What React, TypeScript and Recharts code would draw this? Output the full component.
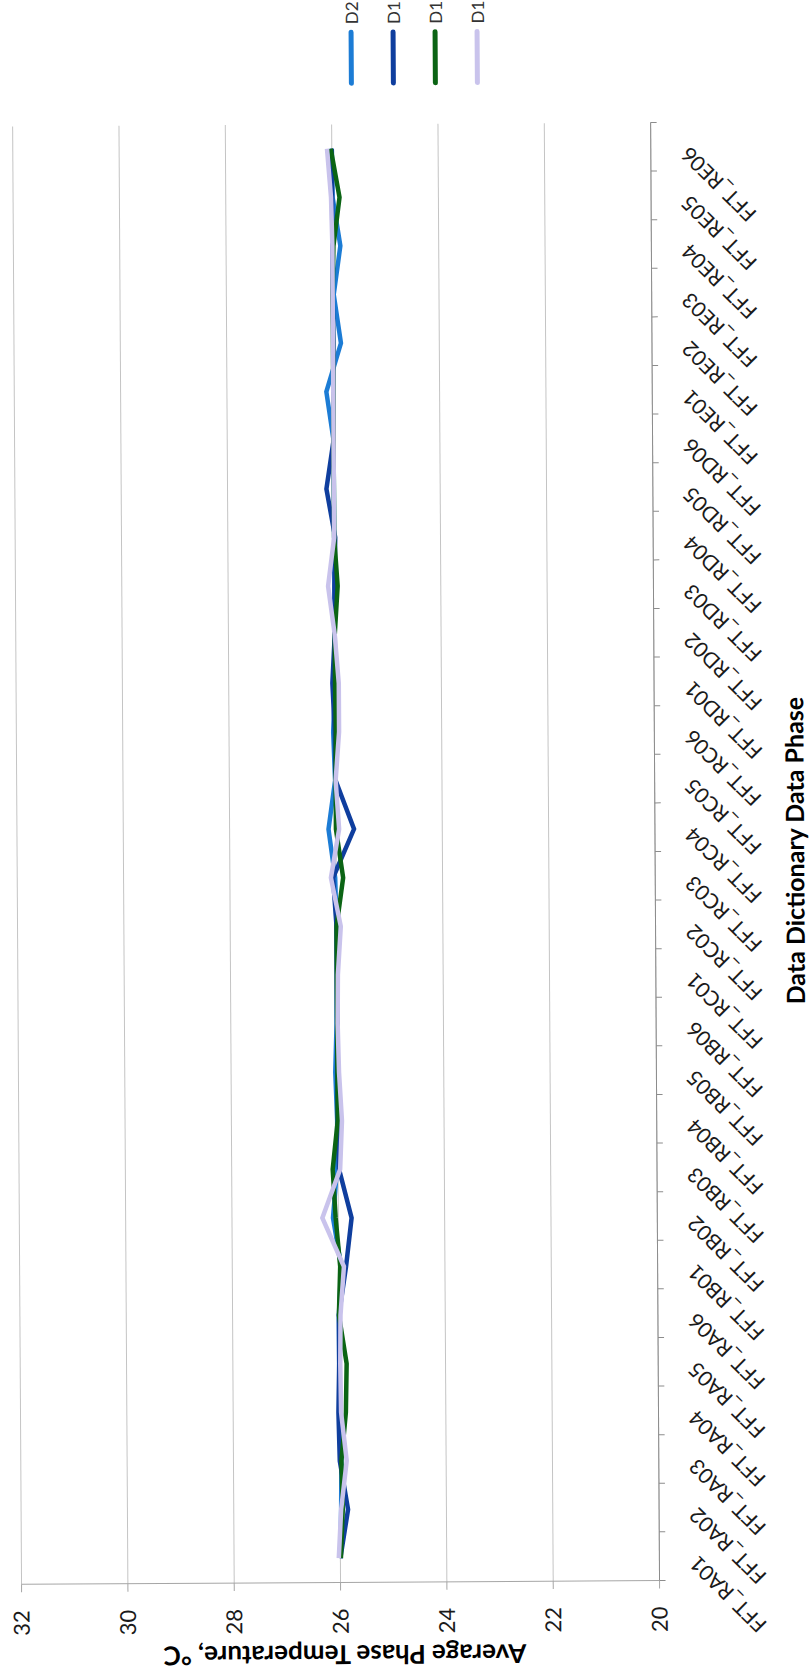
import React from 'react';
import { LineChart, Line, XAxis, YAxis, CartesianGrid, Legend } from 'recharts';

const phases = [
  'FFT_RA01', 'FFT_RA02', 'FFT_RA03', 'FFT_RA04', 'FFT_RA05', 'FFT_RA06',
  'FFT_RB01', 'FFT_RB02', 'FFT_RB03', 'FFT_RB04', 'FFT_RB05', 'FFT_RB06',
  'FFT_RC01', 'FFT_RC02', 'FFT_RC03', 'FFT_RC04', 'FFT_RC05', 'FFT_RC06',
  'FFT_RD01', 'FFT_RD02', 'FFT_RD03', 'FFT_RD04', 'FFT_RD05', 'FFT_RD06',
  'FFT_RE01', 'FFT_RE02', 'FFT_RE03', 'FFT_RE04', 'FFT_RE05', 'FFT_RE06',
];

const d2 = [
  26.0, 25.98, 25.97, 26.0, 26.0, 26.0,
  25.95, 26.1, 26.02, 26.01, 26.04, 26.01,
  26.0, 26.0, 26.02, 26.14, 26.01, 26.04,
  26.0, 26.0, 26.0, 26.0, 26.0, 26.0,
  26.13, 25.85, 25.98, 25.85, 25.99, 26.0,
];

const d1Navy = [
  26.0, 25.85, 26.0, 26.02, 26.0, 26.0,
  25.86, 25.75, 25.98, 26.0, 26.0, 26.0,
  26.0, 26.0, 26.06, 25.66, 26.0, 26.01,
  26.05, 26.0, 26.0, 25.98, 26.14, 26.0,
  26.0, 25.99, 26.0, 26.0, 26.0, 26.0,
];

const d1Green = [
  25.99, 25.95, 25.97, 25.88, 25.86, 26.0,
  25.97, 26.05, 26.1, 26.0, 26.0, 26.0,
  26.0, 26.0, 25.87, 26.0, 26.0, 25.99,
  26.0, 26.0, 25.94, 26.0, 26.0, 26.0,
  26.0, 26.0, 26.0, 25.98, 25.86, 26.02,
];

const d1Lilac = [
  26.03, 25.98, 25.87, 25.97, 25.98, 25.97,
  25.9, 26.3, 25.96, 25.92, 25.97, 25.99,
  25.98, 25.92, 26.1, 25.94, 26.0, 25.93,
  25.93, 26.0, 26.12, 26.0, 26.0, 26.0,
  26.0, 26.0, 26.0, 26.0, 26.02, 26.09,
];

const tempTicks = [20, 22, 24, 26, 28, 30, 32];

const series = [
  { key: 'd2', name: 'D2', color: '#1C7CD5' },
  { key: 'd1Navy', name: 'D1', color: '#0F3E9E' },
  { key: 'd1Green', name: 'D1', color: '#0B6414' },
  { key: 'd1Lilac', name: 'D1', color: '#C9C3EC' },
];

// each phase sits in the middle of its slot; tick marks go on the slot edges
const data = phases.map((phase, i) => ({
  phase,
  pos: i + 0.5,
  d2: d2[i],
  d1Navy: d1Navy[i],
  d1Green: d1Green[i],
  d1Lilac: d1Lilac[i],
}));

const slotTicks = Array.from({ length: phases.length * 2 + 1 }, (_, i) => i / 2);

const FONT = 'Lato, "Open Sans", sans-serif';
const TEXT = '#1a1a1a';

const PhaseTick = (props: any) => {
  const { x, y, payload } = props;
  const v = payload.value as number;
  if (Number.isInteger(v)) {
    return <line x1={x} y1={y} x2={x} y2={y + 6} stroke="#8C8C8C" strokeWidth={1} />;
  }
  const lx = x - 4;
  const ly = y + 34;
  return (
    <text
      x={lx}
      y={ly}
      dy="0.35em"
      textAnchor="end"
      transform={`rotate(-45, ${lx}, ${ly})`}
      fontFamily={FONT}
      fontSize={21}
      fill={TEXT}
    >
      {phases[Math.floor(v)]}
    </text>
  );
};

const TempTitle = (props: any) => {
  const { viewBox } = props;
  const cy = viewBox.y + viewBox.height / 2 + 4;
  return (
    <text
      x={24}
      y={cy}
      transform={`rotate(-90, 24, ${cy})`}
      textAnchor="middle"
      dominantBaseline="central"
      fontFamily={FONT}
      fontWeight="bold"
      fontSize={26}
      fill="#000"
    >
      Average Phase Temperature, °C
    </text>
  );
};

const PhaseTitle = (props: any) => {
  const { viewBox } = props;
  const cx = viewBox.x + viewBox.width / 2;
  return (
    <text
      x={cx}
      y={794}
      textAnchor="middle"
      dominantBaseline="central"
      fontFamily={FONT}
      fontWeight="bold"
      fontSize={25}
      fill="#000"
    >
      Data Dictionary Data Phase
    </text>
  );
};

// legend rows follow the series order (D2 first)
const LegendBox = () => (
  <div style={{ display: 'flex', flexDirection: 'column' }}>
    {series.map((s) => (
      <div key={s.key} style={{ display: 'flex', alignItems: 'center', height: 42 }}>
        <svg width={59} height={8}>
          <line x1={4} y1={4} x2={55} y2={4} stroke={s.color} strokeWidth={5} strokeLinecap="round" />
        </svg>
        <span style={{ fontFamily: FONT, fontSize: 17, color: '#333', marginLeft: 4, lineHeight: '17px' }}>
          {s.name}
        </span>
      </div>
    ))}
  </div>
);

export default function App() {
  return (
    <div style={{ position: 'absolute', left: 0, top: 0, width: 811, height: 1679, overflow: 'hidden', background: '#fff' }}>
      {/* landscape chart turned on its side */}
      <div
        style={{
          position: 'absolute',
          left: -434,
          top: 434,
          width: 1679,
          height: 811,
          transform: 'rotate(-90.35deg)',
          transformOrigin: '50% 50%',
          fontFamily: FONT,
        }}
      >
        <LineChart width={1679} height={811} data={data} margin={{ top: 17, right: 124, bottom: 6, left: 0 }}>
          <CartesianGrid vertical={false} stroke="#C4C4C4" strokeWidth={1} />
          <XAxis
            dataKey="pos"
            type="number"
            domain={[0, phases.length]}
            ticks={slotTicks}
            interval={0}
            height={150}
            tickSize={0}
            tickMargin={0}
            tickLine={false}
            axisLine={{ stroke: '#8C8C8C', strokeWidth: 1 }}
            tick={<PhaseTick />}
            label={<PhaseTitle />}
          />
          <YAxis
            type="number"
            domain={[20, 32]}
            ticks={tempTicks}
            interval={0}
            width={97}
            tickSize={8}
            tickMargin={18}
            axisLine={{ stroke: '#A6A6A6', strokeWidth: 1 }}
            tickLine={{ stroke: '#A6A6A6', strokeWidth: 1 }}
            tick={{ fontFamily: FONT, fontSize: 22, fill: TEXT }}
            label={<TempTitle />}
          />
          <Legend
            layout="vertical"
            align="center"
            verticalAlign="middle"
            wrapperStyle={{ left: 1592, top: 335 }}
            content={<LegendBox />}
          />
          {series.map((s) => (
            <Line
              key={s.key}
              type="linear"
              dataKey={s.key}
              name={s.name}
              stroke={s.color}
              strokeWidth={4.5}
              dot={false}
              activeDot={false}
              isAnimationActive={false}
            />
          ))}
        </LineChart>
      </div>
    </div>
  );
}
